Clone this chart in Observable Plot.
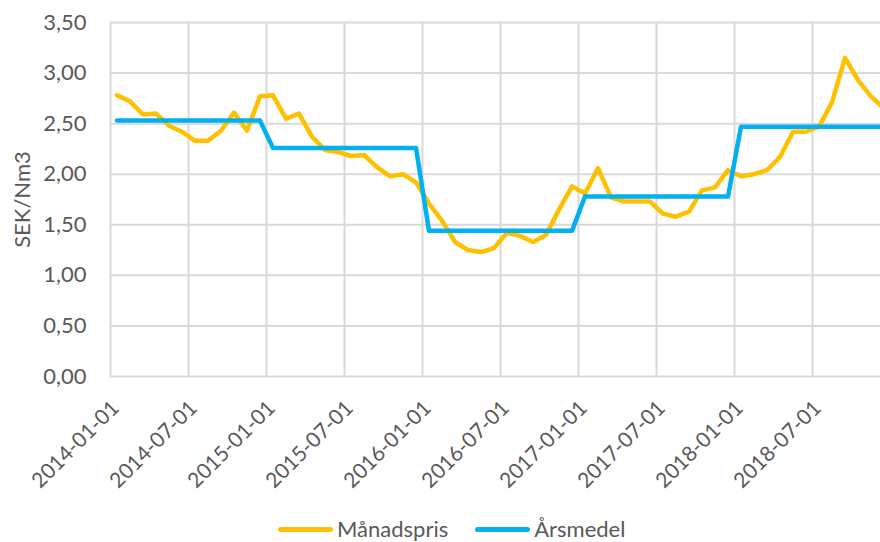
<!DOCTYPE html>
<html><head><meta charset="utf-8">
<script src="https://cdn.jsdelivr.net/npm/d3@7"></script>
<script src="https://cdn.jsdelivr.net/npm/@observablehq/plot@0.6"></script>
<style>
body{margin:0;background:#fff;font-family:Lato,"Open Sans",sans-serif;}
#chart{position:relative;width:880px;height:542px;overflow:hidden;}
#chart svg{display:block;}
.legend{position:absolute;left:278px;top:517px;display:flex;align-items:center;font-size:22px;line-height:24px;color:#595959;font-family:Lato,sans-serif;}
.legend .item{display:flex;align-items:center;margin-right:27px;}
.legend .sw{width:55px;height:5px;border-radius:3px;margin-right:4px;}
</style></head><body><div id="chart"></div>
<script>
// Data
const tickLabels = ["2014-01-01","2014-07-01","2015-01-01","2015-07-01","2016-01-01","2016-07-01","2017-01-01","2017-07-01","2018-01-01","2018-07-01"];
const years = ["2014","2015","2016","2017","2018"];
const manadspris = [
  2.78, 2.72, 2.59, 2.60, 2.48, 2.42, 2.33, 2.33, 2.43, 2.61, 2.43, 2.77,
  2.78, 2.55, 2.60, 2.37, 2.24, 2.22, 2.18, 2.19, 2.07, 1.98, 2.00, 1.92,
  1.71, 1.54, 1.33, 1.25, 1.23, 1.27, 1.42, 1.39, 1.33, 1.40, 1.65, 1.88,
  1.81, 2.06, 1.77, 1.73, 1.73, 1.73, 1.61, 1.58, 1.63, 1.84, 1.87, 2.04,
  1.98, 2.00, 2.04, 2.17, 2.42, 2.42, 2.47, 2.71, 3.15, 2.93, 2.77, 2.65
];
const arsmedel = [2.53, 2.26, 1.44, 1.78, 2.47];
const yTicks = [0, 0.5, 1, 1.5, 2, 2.5, 3, 3.5];
const seriesNames = ["Månadspris", "Årsmedel"];
const colors = ["#FFC000", "#00B0F0"];

const data = manadspris.map((v, i) => ({m: i + 0.5, pris: v, medel: arsmedel[Math.floor(i / 12)]}));
const tickIdx = tickLabels.map((_, k) => k * 6);
const fmt = d => d.toFixed(2).replace(".", ",");

const plot = Plot.plot({
  width: 880, height: 500,
  marginLeft: 110, marginRight: 0, marginTop: 22, marginBottom: 124,
  style: {fontFamily: "Lato, sans-serif", fontSize: "22px", color: "#595959", overflow: "hidden"},
  x: {type: "linear", domain: [0, 60], range: [110, 890]},
  y: {domain: [0, 3.5], range: [376, 22]},
  marks: [
    Plot.ruleY(yTicks, {stroke: "#d9d9d9", strokeWidth: 2}),
    Plot.ruleX(tickIdx, {stroke: "#d9d9d9", strokeWidth: 2}),
    Plot.axisY(yTicks, {tickSize: 0, tickPadding: 24, tickFormat: fmt, label: null, fill: "#595959"}),
    Plot.axisX(tickIdx, {tickSize: 0, tickPadding: 6, tickRotate: -45, tickFormat: d => tickLabels[d / 6], label: null, fill: "#595959", fontSize: 21, dx: 5, dy: 22}),
    Plot.line(data, {x: "m", y: "pris", stroke: colors[0], strokeWidth: 4.5, strokeLinejoin: "round", strokeLinecap: "round"}),
    Plot.line(data, {x: "m", y: "medel", stroke: colors[1], strokeWidth: 4.5, strokeLinejoin: "round", strokeLinecap: "round"}),
    Plot.text(["SEK/Nm3"], {frameAnchor: "left", textAnchor: "middle", dx: -88, rotate: -90, fill: "#595959", fontSize: 22})
  ]
});
const chart = document.getElementById("chart");
chart.appendChild(plot);

const legend = document.createElement("div");
legend.className = "legend";
seriesNames.forEach((name, i) => {
  const item = document.createElement("div");
  item.className = "item";
  const sw = document.createElement("div");
  sw.className = "sw";
  sw.style.background = colors[i];
  const t = document.createElement("span");
  t.textContent = name;
  item.appendChild(sw);
  item.appendChild(t);
  legend.appendChild(item);
});
chart.appendChild(legend);
</script>
</body></html>
